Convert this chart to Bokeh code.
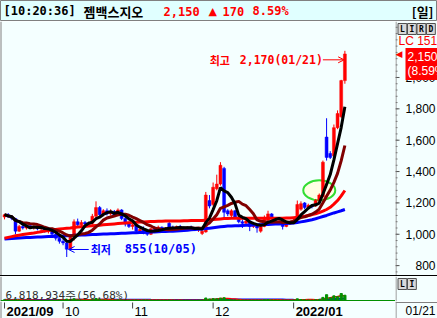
import numpy as np
import pandas as pd
from bokeh.plotting import figure
from bokeh.layouts import column, row
from bokeh.models import (Range1d, Label, Arrow, OpenHead, Span, ColumnDataSource, Div)
from bokeh.core.properties import value
from bokeh.embed import file_html
from bokeh.resources import INLINE

# ---------------- data ----------------
quote_time = "10:20:36"
stock_name = "젬백스지오"
period_label = "[일]"
lc_label = "LC 151"
turnover_pct = 56.68
kr_holidays = ["2021-09-20", "2021-09-21", "2021-09-22", "2021-10-04", "2021-10-11", "2021-12-31"]
dates = [d for d in pd.bdate_range("2021-09-06", "2022-01-21")
         if d.strftime("%Y-%m-%d") not in kr_holidays]

opens = [1110, 1125, 1110, 1100, 1020, 1050, 1040, 1055, 1040, 1045,
         1035, 1040, 1020, 1030, 1000, 975, 955, 945, 905, 990,
         1080, 1060, 1075, 1065, 1070, 1115, 1170, 1125, 1150, 1130,
         1145, 1120, 1155, 1100, 1065, 1050, 1060, 1020, 1030, 1010,
         1000, 1035, 1030, 1045, 1030, 1070, 1045, 1040, 1050, 1040,
         1035, 1045, 1035, 1030, 1005, 1015, 1215, 1190, 1290, 1320,
         1420, 1150, 1120, 1150, 1110, 1080, 1070, 1085, 1050, 1060,
         1020, 1050, 1090, 1130, 1100, 1080, 1080, 1050, 1065, 1075,
         1100, 1160, 1200, 1170, 1185, 1180, 1215, 1240, 1620, 1515,
         1500, 1680, 1750, 1980]
highs = [1130, 1135, 1120, 1105, 1060, 1065, 1060, 1060, 1055, 1050,
         1050, 1045, 1035, 1035, 1010, 990, 975, 955, 1000, 1095,
         1100, 1090, 1085, 1080, 1130, 1210, 1180, 1160, 1165, 1160,
         1155, 1165, 1160, 1110, 1080, 1070, 1065, 1040, 1050, 1030,
         1040, 1050, 1055, 1050, 1045, 1085, 1055, 1055, 1060, 1050,
         1050, 1055, 1045, 1040, 1030, 1270, 1250, 1330, 1380, 1460,
         1430, 1160, 1160, 1155, 1120, 1095, 1100, 1090, 1070, 1065,
         1060, 1120, 1150, 1135, 1110, 1095, 1085, 1075, 1085, 1100,
         1215, 1210, 1205, 1195, 1190, 1225, 1260, 1470, 1740, 1530,
         1700, 1790, 1985, 2170]
lows = [1095, 1105, 1090, 1000, 1015, 1030, 1030, 1035, 1030, 1025,
        1020, 1010, 1005, 990, 960, 940, 930, 855, 900, 960,
        1050, 1045, 1055, 1050, 1060, 1100, 1110, 1115, 1120, 1120,
        1110, 1115, 1090, 1050, 1040, 1030, 1010, 1005, 1000, 990,
        995, 1020, 1020, 1025, 1015, 1035, 1030, 1030, 1035, 1025,
        1030, 1030, 1020, 1015, 995, 1010, 1165, 1180, 1280, 1310,
        1100, 1115, 1110, 1100, 1070, 1040, 1060, 1020, 1040, 1010,
        1010, 1045, 1085, 1095, 1080, 1070, 1030, 1045, 1060, 1070,
        1095, 1150, 1160, 1165, 1165, 1175, 1205, 1235, 1470, 1480,
        1495, 1670, 1740, 1960]
closes = [1125, 1110, 1100, 1020, 1050, 1040, 1055, 1040, 1045, 1035,
          1040, 1020, 1030, 1000, 975, 955, 945, 905, 990, 1080,
          1060, 1075, 1065, 1070, 1115, 1170, 1125, 1150, 1130, 1145,
          1120, 1155, 1100, 1065, 1050, 1060, 1020, 1030, 1010, 1000,
          1035, 1030, 1045, 1030, 1040, 1045, 1040, 1050, 1040, 1035,
          1045, 1035, 1030, 1035, 1020, 1250, 1180, 1300, 1320, 1440,
          1140, 1130, 1150, 1110, 1080, 1070, 1085, 1050, 1060, 1040,
          1050, 1100, 1130, 1100, 1090, 1085, 1050, 1065, 1075, 1090,
          1190, 1195, 1170, 1185, 1175, 1215, 1250, 1460, 1490, 1490,
          1680, 1770, 1980, 2150]
volume = [900000, 700000, 600000, 1500000, 800000, 600000, 500000, 500000, 400000, 400000,
          450000, 500000, 400000, 600000, 700000, 800000, 700000, 1800000, 1200000, 2200000,
          900000, 700000, 600000, 500000, 900000, 2500000, 1500000, 800000, 600000, 700000,
          600000, 900000, 800000, 700000, 600000, 600000, 700000, 500000, 800000, 700000,
          600000, 500000, 500000, 400000, 500000, 600000, 500000, 400000, 450000, 400000,
          450000, 400000, 400000, 500000, 600000, 3200000, 2000000, 2400000, 2200000, 3000000,
          3500000, 1200000, 900000, 800000, 700000, 600000, 500000, 600000, 500000, 500000,
          600000, 1100000, 1300000, 800000, 700000, 500000, 600000, 500000, 500000, 700000,
          2200000, 1300000, 900000, 700000, 600000, 1000000, 1400000, 4000000, 7500000, 3500000,
          6000000, 5000000, 9000000, 6818934]
# long moving averages (red and blue lines)
ma_red = [975, 980, 985, 990, 994, 998, 1002, 1005, 1008, 1012,
          1016, 1020, 1024, 1027, 1030, 1033, 1036, 1038, 1040, 1043,
          1046, 1048, 1050, 1052, 1054, 1056, 1058, 1060, 1062, 1064,
          1066, 1068, 1070, 1072, 1074, 1076, 1077, 1078, 1079, 1080,
          1081, 1082, 1083, 1083, 1084, 1084, 1085, 1085, 1085, 1086,
          1086, 1087, 1087, 1088, 1088, 1090, 1092, 1094, 1096, 1098,
          1100, 1101, 1102, 1102, 1102, 1102, 1102, 1102, 1102, 1102,
          1102, 1102, 1102, 1102, 1102, 1102, 1102, 1103, 1104, 1106,
          1108, 1111, 1115, 1120, 1125, 1131, 1138, 1147, 1158, 1172,
          1192, 1215, 1245, 1279]
ma_blue = [970, 972, 973, 975, 976, 978, 979, 980, 981, 982,
           983, 984, 985, 986, 987, 988, 989, 990, 991, 993,
           994, 995, 996, 997, 998, 999, 1000, 1001, 1002, 1003,
           1004, 1005, 1006, 1007, 1008, 1009, 1010, 1011, 1012, 1013,
           1014, 1015, 1016, 1017, 1018, 1019, 1020, 1021, 1022, 1024,
           1026, 1028, 1030, 1032, 1034, 1036, 1039, 1042, 1045, 1048,
           1050, 1052, 1053, 1054, 1055, 1056, 1057, 1058, 1059, 1060,
           1061, 1062, 1063, 1064, 1065, 1066, 1067, 1068, 1070, 1072,
           1075, 1079, 1083, 1088, 1093, 1099, 1106, 1113, 1120, 1128,
           1136, 1143, 1150, 1158]
price_ticks = [800, 1000, 1200, 1400, 1600, 1800, 2000]
price_minor = list(range(760, 2360, 40))
highlight_idx = [86]
highlight_price = [1280]

# ---------------- layout constants ----------------
W = 437
RB = 42
FW = W - RB
BG = "#F4FFFF"
RED = "#FF0000"
BLUE = "#0000FF"
GRAY = "#808080"
PX = 3.66
n = len(closes)
idx = np.arange(n)
X0 = -4 / PX
X1 = X0 + FW / PX
xr = Range1d(X0, X1)
PH = 254
yr = Range1d(737, 2357)
UPP = (yr.end - yr.start) / PH

SANS = value("Liberation Sans")


def fig(width, height, x_range, y_range, bg=BG):
    f = figure(width=width, height=height, x_range=x_range, y_range=y_range,
               output_backend="svg", toolbar_location=None,
               x_axis_location=None, y_axis_location=None,
               min_border_left=0, min_border_right=0,
               min_border_top=0, min_border_bottom=0,
               background_fill_color=bg, border_fill_color=bg,
               outline_line_color=None)
    f.grid.visible = False
    return f


def box_label(x, y, ch, yoff):
    return Label(x=x, y=y, x_offset=0, y_offset=yoff, text=ch, text_baseline="top",
                 text_font="DejaVu Sans Mono", text_font_style="bold", text_font_size="8px",
                 text_color="black", border_line_color="#505050", text_line_height=1.0,
                 background_fill_color="#D8D8D8", padding=(2, 1))


# ---------------- title bar ----------------
t = fig(W, 21, Range1d(0, W), Range1d(21, 0), bg="#E0FFFF")
t.outline_line_color = GRAY
chg = closes[-1] - closes[-2]
pct = chg / closes[-2] * 100
title_items = [
    (3, f"[{quote_time}]", "DejaVu Sans Mono", "12px", "black", "left"),
    (83, stock_name, "Noto Sans CJK KR", "13px", "black", "left"),
    (163, f"{closes[-1]:,}", "DejaVu Sans Mono", "12px", RED, "left"),
    (222, f"{chg}", "DejaVu Sans Mono", "12px", RED, "left"),
    (252, f"{pct:.2f}%", "DejaVu Sans Mono", "12px", RED, "left"),
    (433, period_label, "Noto Sans CJK KR", "13px", "black", "right"),
]
for xx, txt, fnt, sz, col, al in title_items:
    t.add_layout(Label(x=xx, y=10.5, text=txt, text_font=fnt, text_font_size=sz,
                       text_font_style="bold", text_color=col, text_align=al,
                       text_baseline="middle"))
t.add_layout(Label(x=208, y=10.5, text="▲", text_font="DejaVu Sans", text_font_size="11px",
                   text_color=RED, text_baseline="middle"))

# ---------------- price pane ----------------
p = fig(FW, PH, xr, yr)
p.add_layout(Span(location=X0, dimension="height", line_color=GRAY, line_width=2))

p.ellipse(x=highlight_idx, y=highlight_price, width=32, height=20,
          width_units="screen", height_units="screen",
          fill_color="#FFFFE4", line_color="#33DD33", line_width=2)

inc = [c >= o for o, c in zip(opens, closes)]
src = ColumnDataSource(dict(
    x=idx, h=highs, l=lows,
    top=np.maximum(opens, closes), bottom=np.minimum(opens, closes),
    color=[RED if u else BLUE for u in inc]))
p.segment(x0="x", y0="h", x1="x", y1="l", line_color="color", line_width=1, source=src)
p.vbar(x="x", width=0.8, top="top", bottom="bottom", fill_color="color",
       line_color="color", line_width=0.5, source=src)

cs = pd.Series(closes, dtype=float)
ma5 = cs.rolling(5, min_periods=1).mean()
ma10 = cs.rolling(10, min_periods=1).mean()
p.line(idx, ma_blue, line_color=BLUE, line_width=3)
p.line(idx, ma_red, line_color=RED, line_width=3)
p.line(idx, ma10, line_color="#800000", line_width=3)
p.line(idx, ma5, line_color="#000000", line_width=3)

ih = int(np.argmax(highs))
il = int(np.argmin(lows))
hi_y = highs[ih] - 9 * UPP
p.add_layout(Arrow(end=OpenHead(size=6, line_color=RED, line_width=1),
                   x_start=ih - 22 / PX, y_start=hi_y, x_end=ih - 0.2, y_end=hi_y,
                   line_color=RED, line_width=1))
p.add_layout(Label(x=ih, y=highs[ih], x_offset=-22, y_offset=-9,
                   text=f"{highs[ih]:,}({dates[ih]:%m/%d})", text_align="right",
                   text_baseline="middle", text_color=RED, text_font="DejaVu Sans Mono",
                   text_font_style="bold", text_font_size="11.5px"))
p.add_layout(Label(x=ih, y=highs[ih], x_offset=-115, y_offset=-9, text="최고",
                   text_align="right", text_baseline="middle", text_color=RED,
                   text_font="Noto Sans CJK KR", text_font_style="bold", text_font_size="11px"))

lo_y = lows[il] + 7.5 * UPP
p.add_layout(Arrow(end=OpenHead(size=6, line_color=BLUE, line_width=1),
                   x_start=il + 22 / PX, y_start=lo_y, x_end=il + 0.5, y_end=lo_y,
                   line_color=BLUE, line_width=1))
p.add_layout(Label(x=il, y=lows[il], x_offset=24, y_offset=7.5, text="최저",
                   text_baseline="middle", text_color=BLUE,
                   text_font="Noto Sans CJK KR", text_font_style="bold", text_font_size="11px"))
p.add_layout(Label(x=il, y=lows[il], x_offset=58, y_offset=7.5,
                   text=f"{lows[il]:,}({dates[il]:%m/%d})",
                   text_baseline="middle", text_color=BLUE, text_font="DejaVu Sans Mono",
                   text_font_style="bold", text_font_size="12px"))

# ---------------- price scale column (right) ----------------
pr = fig(RB, PH, Range1d(0, RB), yr)
pr.add_layout(Span(location=0.5, dimension="height", line_color=GRAY, line_width=1))
pr.segment(x0=[0] * len(price_minor), y0=price_minor, x1=[2] * len(price_minor), y1=price_minor,
           line_color="#707070", line_width=1)
pr.segment(x0=[0] * len(price_ticks), y0=price_ticks, x1=[4] * len(price_ticks), y1=price_ticks,
           line_color="#505050", line_width=1)
pr.text(x=[40] * len(price_ticks), y=price_ticks, text=[f"{v:,}" for v in price_ticks],
        text_align="right", text_baseline="middle", text_font=SANS,
        text_font_size="12px", text_color="black")
for k, ch in enumerate("LIRD"):
    pr.add_layout(box_label(2.5 + k * 9.5, yr.end, ch, -2))
pr.add_layout(Label(x=3, y=yr.end, y_offset=-19, text=lc_label, text_baseline="middle",
                    text_color=RED, text_font="Liberation Sans", text_font_size="12px"))
pr.add_layout(Label(x=10, y=closes[-1], y_offset=6,
                    text=f"{closes[-1]:,}\n({pct:.2f}%)", text_baseline="top",
                    text_color="white", background_fill_color=RED, padding=2,
                    text_font="Liberation Sans", text_font_size="12px", text_line_height=1.0))
pr.add_layout(Label(x=0, y=closes[-1], text="◀", text_baseline="middle",
                    text_color=RED, text_font="DejaVu Sans", text_font_size="9px"))

# ---------------- separator ----------------
sep = Div(width=W, height=1, margin=(0, 0, 0, 0), styles={"background-color": "#000000"})

# ---------------- volume pane ----------------
VH = 25
vyr = Range1d(-1.29e6, 31e6)
v = fig(FW, VH, xr, vyr)
v.add_layout(Span(location=X0, dimension="height", line_color=GRAY, line_width=2))
v.add_layout(Span(location=0, dimension="width", line_color="#009000", line_width=1))
vs = pd.Series(volume, dtype=float)
v.line(idx, vs.rolling(20, min_periods=1).mean(), line_color=BLUE, line_width=2)
v.line(idx, vs.rolling(5, min_periods=1).mean(), line_color=RED, line_width=1.5)
v.vbar(x=idx, top=volume, width=0.6, fill_color="#009000", line_color="#009000")
v.add_layout(Label(x=X0, y=0, x_offset=5, y_offset=5,
                   text=f"{volume[-1]:,}주({turnover_pct:.2f}%)", text_baseline="middle",
                   text_color="#303030", text_font="DejaVu Sans Mono", text_font_size="11px"))

vr = fig(RB, VH, Range1d(0, RB), Range1d(VH, 0))
vr.add_layout(Span(location=0.5, dimension="height", line_color=GRAY, line_width=1))
for k, ch in enumerate("LI"):
    vr.add_layout(box_label(2.5 + k * 9.5, 0, ch, -2))

# ---------------- date row ----------------
DH = 17
d = fig(FW, DH, xr, Range1d(DH, 0))
d.add_layout(Span(location=X0, dimension="height", line_color=GRAY, line_width=2))
m_idx = [i for i in range(n) if i == 0 or dates[i].month != dates[i - 1].month]
m_lab = [dates[i].strftime("%Y/%m") if (i == 0 or dates[i].month == 1) else dates[i].strftime("%m")
         for i in m_idx]
m_sty = ["bold" if "/" in s else "normal" for s in m_lab]
d.segment(x0=m_idx, y0=[1] * len(m_idx), x1=m_idx, y1=[7] * len(m_idx), line_color="#404040")
d.text(x=m_idx, y=[9.5] * len(m_idx), text=m_lab, x_offset=2,
       text_font_style=m_sty, text_baseline="middle", text_font=SANS,
       text_font_size="13px", text_color="black")

dr = fig(RB, DH, Range1d(0, RB), Range1d(DH, 0))
dr.add_layout(Span(location=0.5, dimension="height", line_color=GRAY, line_width=1))
dr.add_layout(Span(location=1, dimension="width", line_color=GRAY, line_width=1))
dr.text(x=[40], y=[9.5], text=[f"{dates[-1]:%m/%d}"], text_align="right", text_baseline="middle",
        text_font=SANS, text_font_size="12px", text_color="black")

layout = column(t, row(p, pr, spacing=0), sep, row(v, vr, spacing=0), row(d, dr, spacing=0),
                spacing=0)
open("out.html", "w").write(file_html(layout, INLINE))
